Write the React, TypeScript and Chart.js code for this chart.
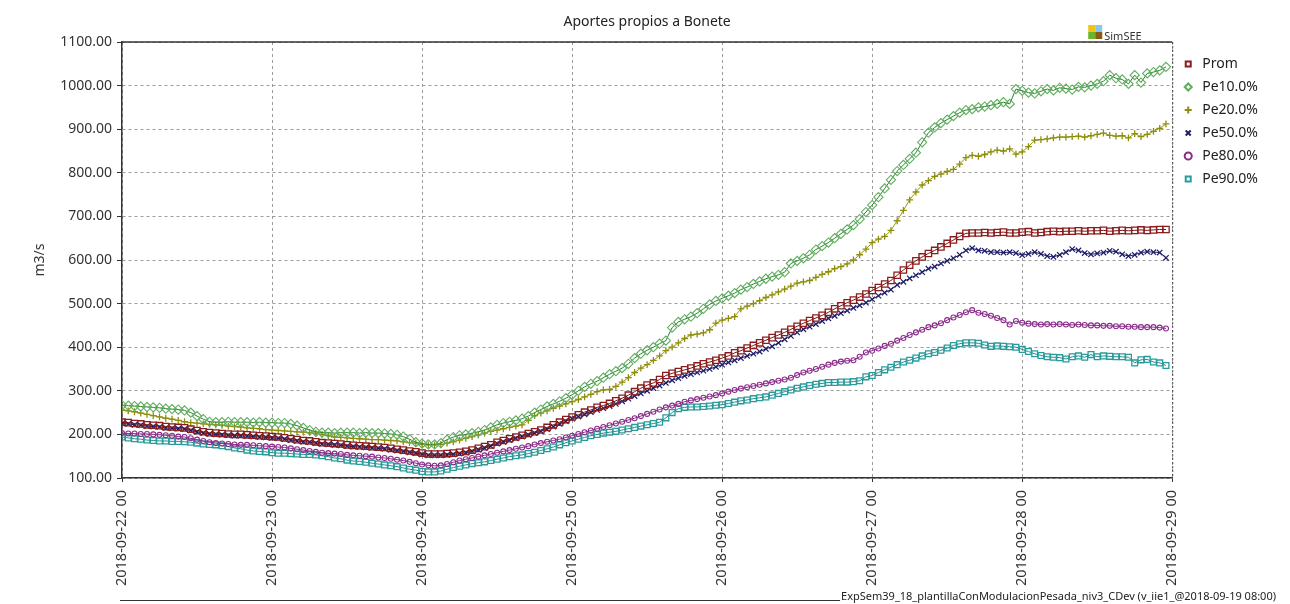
import React, { useEffect, useRef } from 'react';
import { Chart, registerables } from 'chart.js';

Chart.register(...registerables);

const TITLE = 'Aportes propios a Bonete';
const Y_TITLE = 'm3/s';
const FOOTER = 'ExpSem39_18_plantillaConModulacionPesada_niv3_CDev (v_iie1_@2018-09-19 08:00)';
const LOGO_TEXT = 'SimSEE';

const xTickLabels = [
  '2018-09-22 00', '2018-09-23 00', '2018-09-24 00', '2018-09-25 00',
  '2018-09-26 00', '2018-09-27 00', '2018-09-28 00', '2018-09-29 00',
];
const HOURS_PER_DAY = 24;
const Y_MIN = 100;
const Y_MAX = 1100;
const Y_STEP = 100;

const seriesNames = ['Prom', 'Pe10.0%', 'Pe20.0%', 'Pe50.0%', 'Pe80.0%', 'Pe90.0%'];

const prom = [
  228, 227, 225, 224, 222, 221, 220, 218, 217, 216, 215, 212,
  209, 206, 204, 203, 202, 201, 200, 200, 199, 198, 197, 196,
  195, 194, 192, 190, 188, 186, 185, 183, 181, 180, 179, 178,
  176, 175, 174, 173, 172, 171, 170, 168, 166, 164, 162, 160,
  157, 155, 155, 155, 156, 157, 159, 161, 164, 168, 172, 176,
  182, 186, 190, 194, 198, 202, 206, 210, 216, 222, 228, 234,
  240, 245, 251, 256, 262, 266, 271, 277, 283, 290, 298, 306,
  313, 318, 326, 335, 340, 344, 348, 352, 357, 362, 366, 370,
  375, 380, 387, 392, 398, 404, 410, 416, 422, 428, 434, 441,
  448, 455, 461, 467, 473, 480, 488, 495, 502, 508, 515, 522,
  530, 537, 545, 553, 565, 577, 588, 598, 607, 615, 622, 630,
  638, 646, 654, 661, 662, 662, 663, 662, 663, 664, 662, 662,
  664, 665, 662, 663, 665, 666, 665, 666, 666, 667, 666, 667,
  667, 668, 666, 667, 668, 667, 668, 669, 668, 669, 670, 670,
];

const pe10 = [
  267, 266, 265, 264, 263, 262, 261, 259, 258, 257, 255, 250,
  242, 235, 229, 228, 228, 229, 228, 228, 228, 227, 228, 227,
  227, 226, 226, 224, 220, 215, 210, 206, 204, 204, 203, 204,
  204, 204, 203, 204, 203, 203, 202, 201, 199, 195, 189, 182,
  179, 177, 177, 180, 188, 194, 198, 200, 203, 206, 210, 216,
  222, 226, 229, 232, 236, 242, 250, 257, 264, 270, 276, 283,
  291, 300, 309, 316, 322, 330, 338, 345, 352, 362, 375, 385,
  393, 400, 408, 415, 445, 458, 464, 470, 478, 488, 498, 506,
  512, 518, 524, 532, 538, 545, 551, 557, 562, 566, 572, 592,
  598, 604, 612, 624, 632, 640, 650, 660, 670, 680, 694, 710,
  726, 744, 764, 784, 804, 818, 832, 846, 870, 892, 904, 914,
  922, 930, 938, 944, 946, 950, 952, 955, 958, 962, 958, 992,
  988, 984, 982, 987, 992, 989, 995, 993, 991, 997, 996, 1000,
  1004, 1010, 1024, 1017, 1014, 1004, 1024, 1007, 1028, 1031, 1035, 1043,
];

const pe20 = [
  256, 254, 252, 249, 246, 243, 240, 237, 235, 232, 229, 227,
  226, 224, 223, 222, 221, 219, 218, 217, 215, 214, 213, 211,
  210, 209, 208, 207, 206, 205, 204, 203, 200, 197, 194, 193,
  192, 191, 190, 189, 188, 188, 187, 186, 185, 183, 181, 180,
  177, 176, 176, 177, 180, 183, 187, 191, 195, 199, 203, 207,
  210, 213, 216, 219, 222, 232, 243, 249, 254, 260, 265, 270,
  275, 280, 286, 292, 298, 302, 303, 310, 320, 330, 342, 352,
  360, 370, 380, 392, 400, 410, 420, 428, 430, 433, 440, 455,
  462, 466, 470, 488, 494, 500, 507, 514, 520, 527, 533, 540,
  547, 550, 553, 560, 567, 573, 580, 585, 591, 600, 612, 625,
  640, 648, 654, 668, 690, 714, 738, 756, 772, 782, 792, 797,
  803, 808, 820, 835, 840, 838, 842, 848, 852, 850, 855, 843,
  848, 860, 875, 876, 878, 880, 882, 882, 883, 884, 882, 885,
  888, 891, 886, 884, 885, 880, 890, 883, 888, 895, 902, 912,
];

const pe50 = [
  225, 224, 222, 221, 219, 218, 217, 215, 214, 213, 212, 209,
  206, 203, 201, 200, 199, 198, 197, 197, 196, 195, 194, 193,
  192, 191, 189, 187, 185, 183, 182, 180, 178, 177, 176, 175,
  173, 172, 171, 170, 169, 168, 167, 165, 163, 161, 159, 157,
  154, 152, 152, 152, 153, 154, 156, 158, 161, 165, 169, 173,
  179, 183, 187, 191, 195, 199, 203, 207, 212, 218, 224, 230,
  236, 241, 246, 251, 256, 260, 265, 270, 276, 282, 288, 294,
  300, 306, 312, 318, 324, 329, 334, 338, 342, 346, 350, 355,
  360, 365, 370, 375, 380, 385, 390, 396, 402, 410, 418, 426,
  434, 441, 447, 453, 460, 466, 472, 478, 484, 490, 496, 502,
  510, 518, 525, 532, 543, 550, 558, 565, 572, 580, 585, 592,
  598, 604, 612, 622, 627, 622, 621, 618, 618, 617, 618, 616,
  611, 614, 618, 614, 609, 607, 612, 618, 625, 622, 616, 613,
  615, 617, 621, 619, 613, 609, 612, 617, 619, 618, 617, 605,
];

const pe80 = [
  203, 202, 202, 201, 201, 200, 199, 198, 197, 195, 194, 191,
  188, 185, 182, 180, 179, 178, 177, 176, 176, 175, 174, 173,
  172, 171, 170, 168, 166, 164, 162, 160, 158, 157, 156, 155,
  153, 152, 151, 150, 149, 147, 146, 144, 142, 140, 137, 134,
  131, 129, 128, 129, 132, 136, 140, 143, 146, 149, 152, 155,
  158, 161, 164, 167, 170, 173, 177, 180, 183, 186, 189, 193,
  197, 201, 205, 209, 213, 217, 221, 225, 229, 233, 237, 242,
  247, 252, 257, 262, 266, 270, 275, 278, 281, 284, 287, 290,
  294, 298, 302, 305, 308, 311, 314, 317, 320, 323, 326, 330,
  336, 342, 346, 350, 355, 360, 364, 367, 369, 370, 378, 388,
  392, 397, 403, 408, 415, 421, 428, 434, 440, 446, 450, 455,
  462, 468, 474, 480, 485, 479, 476, 472, 467, 462, 452, 460,
  456, 454, 453, 452, 453, 452, 453, 452, 451, 452, 451, 450,
  450, 449, 449, 448, 448, 447, 447, 446, 446, 446, 445, 443,
];

const pe90 = [
  194, 192, 190, 189, 187, 186, 185, 185, 184, 184, 183, 182,
  180, 178, 177, 176, 174, 172, 169, 167, 164, 162, 161, 160,
  158, 157, 157, 156, 155, 154, 154, 153, 151, 149, 146, 144,
  141, 139, 138, 136, 134, 132, 130, 128, 126, 123, 120, 118,
  115, 114, 114, 116, 120, 124, 127, 130, 133, 135, 137, 140,
  143, 146, 149, 151, 153, 156, 159, 163, 167, 171, 176, 181,
  185, 189, 193, 197, 200, 203, 205, 207, 210, 213, 216, 219,
  222, 225, 228, 238, 250, 259, 262, 263, 263, 264, 265, 267,
  268, 271, 274, 277, 279, 282, 284, 286, 290, 294, 298, 302,
  306, 309, 312, 315, 317, 319, 319, 320, 320, 321, 323, 332,
  335, 342, 348, 354, 360, 366, 370, 375, 380, 385, 388, 393,
  398, 404, 408, 410, 410, 409, 405, 402, 403, 402, 401, 400,
  395, 390, 385, 381, 378, 377, 376, 373, 378, 380, 377, 383,
  378, 380, 379, 378, 378, 377, 364, 371, 372, 366, 364, 358,
];

const seriesValues = [prom, pe10, pe20, pe50, pe80, pe90];

const FONT = "'Noto Sans', 'Open Sans', 'DejaVu Sans', sans-serif";

const styles = [
  { line: '#7a1212', point: '#8b1c1c', pointStyle: 'rect', radius: 4.5, bw: 1.3 },
  { line: '#2e7d2e', point: '#5fae5f', pointStyle: 'rectRot', radius: 4.6, bw: 1.1 },
  { line: '#9a9a14', point: '#8e8e0c', pointStyle: 'cross', radius: 3.4, bw: 1.3 },
  { line: '#1c1c68', point: '#1c1c68', pointStyle: 'crossRot', radius: 3.8, bw: 1.2 },
  { line: '#8b2c8b', point: '#8b2c8b', pointStyle: 'circle', radius: 2.5, bw: 1.1 },
  { line: '#1f8d8d', point: '#2a9b9b', pointStyle: 'rect', radius: 4.1, bw: 1.3 },
];

const decorPlugin = {
  id: 'decor',
  afterDraw(chart: any) {
    const { ctx, chartArea: a, width, height } = chart;
    ctx.save();
    ctx.setLineDash([]);
    ctx.strokeStyle = '#333';
    ctx.lineWidth = 1.5;
    ctx.beginPath();
    ctx.moveTo(a.left, a.top);
    ctx.lineTo(a.right, a.top);
    ctx.stroke();
    ctx.setLineDash([2, 2]);
    ctx.strokeStyle = '#444';
    ctx.lineWidth = 1;
    ctx.beginPath();
    ctx.moveTo(a.right + 0.5, a.top);
    ctx.lineTo(a.right + 0.5, a.bottom);
    ctx.stroke();
    ctx.setLineDash([]);

    // SimSEE logo
    const lx = a.right - 84;
    const ly = a.top - 17;
    ctx.fillStyle = '#f2c318';
    ctx.fillRect(lx, ly, 7, 7);
    ctx.fillStyle = '#86c8f0';
    ctx.fillRect(lx + 7, ly, 7, 7);
    ctx.fillStyle = '#6bb52a';
    ctx.fillRect(lx, ly + 7, 7, 7);
    ctx.fillStyle = '#8a5a16';
    ctx.fillRect(lx + 7, ly + 7, 7, 7);
    ctx.fillStyle = '#333';
    ctx.font = `11px ${FONT}`;
    ctx.textAlign = 'left';
    ctx.textBaseline = 'alphabetic';
    ctx.fillText(LOGO_TEXT, lx + 16, ly + 15);

    // footer
    ctx.font = `11px ${FONT}`;
    ctx.textAlign = 'right';
    ctx.fillStyle = '#222';
    const fx = width - 14;
    const fy = height - 4;
    ctx.fillText(FOOTER, fx, fy);
    const tw = ctx.measureText(FOOTER).width;
    ctx.strokeStyle = '#333';
    ctx.lineWidth = 1;
    ctx.beginPath();
    ctx.moveTo(a.left - 2, fy + 0.5);
    ctx.lineTo(fx - tw - 1, fy + 0.5);
    ctx.stroke();
    ctx.restore();
  },
};

export default function App() {
  const canvasRef = useRef<HTMLCanvasElement | null>(null);

  useEffect(() => {
    if (!canvasRef.current) return;
    Chart.defaults.font.family = FONT;
    const datasets = seriesNames.map((name, k) => ({
      label: name,
      data: seriesValues[k].map((v, i) => ({ x: i, y: v })),
      borderColor: styles[k].line,
      borderWidth: 1,
      backgroundColor: 'rgba(0,0,0,0)',
      pointStyle: styles[k].pointStyle,
      pointRadius: styles[k].radius,
      pointBorderColor: styles[k].point,
      pointBackgroundColor: 'rgba(0,0,0,0)',
      pointBorderWidth: styles[k].bw,
      tension: 0,
      fill: false,
    }));

    const chart = new Chart(canvasRef.current, {
      type: 'line',
      data: { datasets },
      plugins: [decorPlugin],
      options: {
        animation: false,
        responsive: true,
        maintainAspectRatio: false,
        events: [],
        layout: { padding: { left: 0, right: 22, top: 0, bottom: 0 } },
        plugins: {
          title: {
            display: true,
            text: TITLE,
            fullSize: false,
            color: '#222',
            font: { size: 14, weight: 'normal', family: FONT },
            padding: { top: 13.6, bottom: 11.6 },
          },
          legend: {
            display: true,
            position: 'right',
            align: 'start',
            fullSize: false,
            title: { display: true, text: '', font: { size: 4, lineHeight: 1 }, padding: 1 },
            labels: {
              usePointStyle: true,
              boxHeight: 5,
              boxWidth: 14,
              padding: 9,
              color: '#222',
              font: { size: 14, family: FONT },
              generateLabels: (chart: any) => {
                const items = Chart.defaults.plugins.legend.labels.generateLabels(chart);
                return items.map((it: any) => ({ ...it, lineWidth: 2 }));
              },
            },
          },
          tooltip: { enabled: false },
        },
        scales: {
          x: {
            type: 'linear',
            min: 0,
            max: HOURS_PER_DAY * (xTickLabels.length - 1),
            afterFit: (scale: any) => { scale.height = 126; },
            ticks: {
              stepSize: HOURS_PER_DAY,
              autoSkip: false,
              minRotation: 90,
              maxRotation: 90,
              padding: 8,
              color: '#333',
              font: { size: 14.5, family: FONT },
              callback: (value: any) => {
                const idx = Math.round(Number(value) / HOURS_PER_DAY);
                return xTickLabels[idx] ?? '';
              },
            },
            grid: {
              color: '#9c9c9c',
              lineWidth: 1,
              drawTicks: true,
              tickLength: 4,
              tickColor: '#333',
            },
            border: { display: true, color: '#333', width: 1.5, dash: [3, 3] },
          },
          y: {
            type: 'linear',
            min: Y_MIN,
            max: Y_MAX,
            afterFit: (scale: any) => { scale.width = 122; },
            ticks: {
              stepSize: Y_STEP,
              padding: 5,
              color: '#333',
              font: { size: 14, family: FONT },
              callback: (value: any) => Number(value).toFixed(2),
            },
            title: {
              display: true,
              text: Y_TITLE,
              color: '#333',
              font: { size: 14, family: FONT },
              padding: { top: 31.6, bottom: 0 },
            },
            grid: {
              color: '#9c9c9c',
              lineWidth: 1,
              drawTicks: true,
              tickLength: 5,
              tickColor: '#333',
            },
            border: { display: true, color: '#333', width: 1.5, dash: [3, 3] },
          },
        },
      } as any,
    });
    return () => chart.destroy();
  }, []);

  return (
    <div style={{ position: 'absolute', left: 0, top: 0, width: 1290, height: 604, background: '#fff' }}>
      <canvas ref={canvasRef} />
    </div>
  );
}
